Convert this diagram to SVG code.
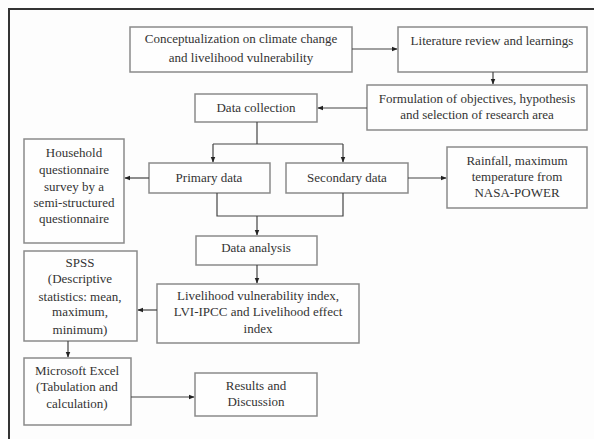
<svg xmlns="http://www.w3.org/2000/svg" width="594" height="439" viewBox="0 0 594 439">
<style>
.box{fill:#fefefe;stroke:#8a8a8a;stroke-width:1.5}
.t{font-family:"Liberation Serif","Times New Roman",serif;font-size:13px;fill:#333;text-anchor:middle}
.c{fill:none;stroke:#444;stroke-width:1.2}
.frame{fill:none;stroke:#333;stroke-width:2}
</style>
<defs>
<marker id="ah" viewBox="0 0 10 10" refX="9" refY="5" markerWidth="6" markerHeight="6" orient="auto" markerUnits="userSpaceOnUse">
<path d="M0,1 L10,5 L0,9 z" fill="#222"/>
</marker>
</defs>
<rect x="0" y="0" width="594" height="439" fill="#fdfdfd"/>
<path class="frame" d="M9,439 V9 H594"/>

<g id="conceptualization">
<rect class="box" x="130" y="27" width="222" height="45"/>
<text class="t" x="241" y="43">Conceptualization on climate change</text>
<text class="t" x="241" y="62">and livelihood vulnerability</text>
</g>
<g id="literature">
<rect class="box" x="398" y="27" width="189" height="45"/>
<text class="t" x="492" y="45">Literature review and learnings</text>
</g>
<g id="formulation">
<rect class="box" x="367" y="85" width="220" height="45"/>
<text class="t" x="477" y="103">Formulation of objectives, hypothesis</text>
<text class="t" x="477" y="119">and selection of research area</text>
</g>
<g id="data-collection">
<rect class="box" x="195" y="94" width="122" height="28"/>
<text class="t" x="256" y="112">Data collection</text>
</g>
<g id="primary">
<rect class="box" x="149" y="163" width="121" height="30"/>
<text class="t" x="209" y="182">Primary data</text>
</g>
<g id="secondary">
<rect class="box" x="286" y="163" width="122" height="30"/>
<text class="t" x="347" y="182">Secondary data</text>
</g>
<g id="household">
<rect class="box" x="24" y="139" width="100" height="104"/>
<text class="t" x="74" y="157">Household</text>
<text class="t" x="74" y="174">questionnaire</text>
<text class="t" x="74" y="191">survey by a</text>
<text class="t" x="74" y="207">semi-structured</text>
<text class="t" x="74" y="223">questionnaire</text>
</g>
<g id="rainfall">
<rect class="box" x="447" y="147" width="140" height="61"/>
<text class="t" x="517" y="165">Rainfall, maximum</text>
<text class="t" x="517" y="181">temperature from</text>
<text class="t" x="517" y="197">NASA-POWER</text>
</g>
<g id="data-analysis">
<rect class="box" x="196" y="236" width="121" height="29"/>
<text class="t" x="256" y="252">Data analysis</text>
</g>
<g id="lvi">
<rect class="box" x="157" y="284" width="202" height="59"/>
<text class="t" x="258" y="300">Livelihood vulnerability index,</text>
<text class="t" x="258" y="316">LVI-IPCC and Livelihood effect</text>
<text class="t" x="258" y="333">index</text>
</g>
<g id="spss">
<rect class="box" x="24" y="251" width="113" height="90"/>
<text class="t" x="80" y="267">SPSS</text>
<text class="t" x="80" y="283">(Descriptive</text>
<text class="t" x="80" y="301">statistics: mean,</text>
<text class="t" x="80" y="316">maximum,</text>
<text class="t" x="80" y="334">minimum)</text>
</g>
<g id="excel">
<rect class="box" x="24" y="358" width="107" height="67"/>
<text class="t" x="77" y="375">Microsoft Excel</text>
<text class="t" x="77" y="391">(Tabulation and</text>
<text class="t" x="77" y="408">calculation)</text>
</g>
<g id="results">
<rect class="box" x="195" y="373" width="122" height="43"/>
<text class="t" x="256" y="390">Results and</text>
<text class="t" x="256" y="406">Discussion</text>
</g>

<g id="connectors">
<path class="c" d="M352,49 H397" marker-end="url(#ah)"/>
<path class="c" d="M493,72 V84" marker-end="url(#ah)"/>
<path class="c" d="M367,108 H318" marker-end="url(#ah)"/>
<path class="c" d="M257,122 V144"/>
<path class="c" d="M213,144 H343"/>
<path class="c" d="M213,144 V162" marker-end="url(#ah)"/>
<path class="c" d="M343,144 V162" marker-end="url(#ah)"/>
<path class="c" d="M149,178 H125" marker-end="url(#ah)"/>
<path class="c" d="M408,178 H446" marker-end="url(#ah)"/>
<path class="c" d="M217,193 V216 H343 V193"/>
<path class="c" d="M257,216 V235" marker-end="url(#ah)"/>
<path class="c" d="M257,265 V283" marker-end="url(#ah)"/>
<path class="c" d="M157,310 H138" marker-end="url(#ah)"/>
<path class="c" d="M68,341 V357" marker-end="url(#ah)"/>
<path class="c" d="M131,397 H194" marker-end="url(#ah)"/>
</g>
</svg>
